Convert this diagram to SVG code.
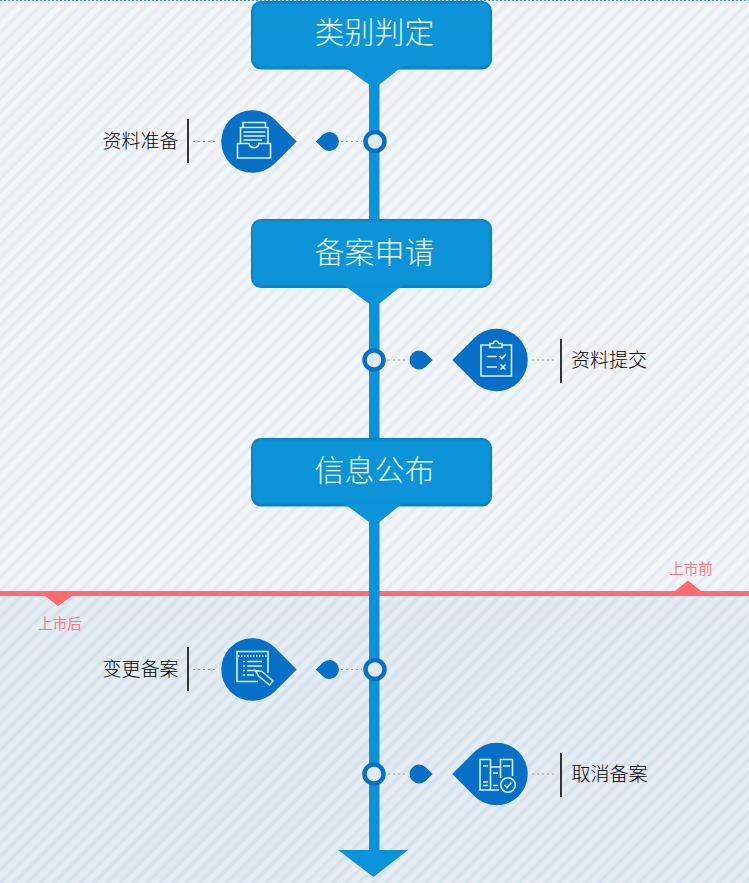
<svg xmlns="http://www.w3.org/2000/svg" width="749" height="883" viewBox="0 0 749 883">
<style>
.h{font-family:"Noto Sans CJK SC","Liberation Sans",sans-serif;font-size:30px;font-weight:300;fill:#e6f6ff;text-anchor:middle}
.l{font-family:"Noto Sans CJK SC","Liberation Sans",sans-serif;font-size:19px;font-weight:300;fill:#000;text-anchor:middle}
.r{font-family:"Noto Sans CJK SC","Liberation Sans",sans-serif;font-size:14.500px;fill:#f47a7d;text-anchor:middle}
.box{fill:#0a93d8}.boxb{fill:#0a80c0}
.drop{fill:#0670c9}
.ring{fill:#e3e9f2;stroke:#0670c9;stroke-width:4.500}
.dot{stroke:#999;stroke-width:1;stroke-dasharray:2 3;fill:none}
.bar{fill:#333}
.ic{fill:none;stroke:#d6f2fd;stroke-width:1.600}
</style>
<defs>
<pattern id="p1" width="9.400" height="9.400" patternUnits="userSpaceOnUse" patternTransform="rotate(-45)"><rect width="9.400" height="9.400" fill="#f3f6f9"/><rect y="2" width="9.400" height="4.400" fill="#edf1f5"/><rect y="3" width="9.400" height="2.400" fill="#e5ebf0"/></pattern>
<pattern id="p2" width="9.400" height="9.400" patternUnits="userSpaceOnUse" patternTransform="rotate(-45)"><rect width="9.400" height="9.400" fill="#e5ecf3"/><rect y="2" width="9.400" height="4.400" fill="#dfe7f0"/><rect y="3" width="9.400" height="2.400" fill="#d8e2ec"/></pattern>
<filter id="soft" x="-5%" y="-10%" width="110%" height="120%"><feGaussianBlur stdDeviation="1.200"/></filter>
</defs>
<rect width="749" height="596" fill="url(#p1)"/>
<rect y="596" width="749" height="287" fill="url(#p2)"/>
<line x1="0" y1="0.500" x2="749" y2="0.500" stroke="#3f9cc0" stroke-width="1" stroke-dasharray="2 2"/>
<g id="divider">
<rect y="591" width="749" height="5" fill="#ff6b6e"/>
<path d="M45 596H72L58 606Z M675 591H701L688 580.500Z" fill="#ff6b6e"/>
<text class="r" x="60" y="629">上市后</text>
<text class="r" x="691" y="574">上市前</text>
</g>
<g id="connectors">
<rect x="369" y="70" width="10.500" height="785" fill="#0a93d8"/>
<path d="M338 850H408L373.500 877Z" fill="#0a93d8"/>
<path class="dot" d="M193 141.500H218M341 141.500H362M388 360H408M532 360H556M193 669.500H218M341 669.500H362M388 774H408M532 774H556"/>
</g>
<g id="n1"><rect class="boxb" x="251" y="1" width="241" height="68.500" rx="10"/><rect class="box" filter="url(#soft)" x="252.500" y="2.500" width="238" height="64.500" rx="9"/><path class="box" d="M342 65H404L379.500 84.500H369Z"/><text class="h" x="374.500" y="43">类别判定</text></g>
<g id="n2"><rect class="boxb" x="251" y="219" width="241" height="69" rx="10"/><rect class="box" filter="url(#soft)" x="252.500" y="220.500" width="238" height="65" rx="9"/><path class="box" d="M342 284H404L379.500 303.500H369Z"/><text class="h" x="374.500" y="263">备案申请</text></g>
<g id="n3"><rect class="boxb" x="251" y="438" width="241" height="68.500" rx="10"/><rect class="box" filter="url(#soft)" x="252.500" y="439.500" width="238" height="64.500" rx="9"/><path class="box" d="M342 502H404L379.500 522H369Z"/><text class="h" x="374.500" y="481">信息公布</text></g>

<g id="s1">
<circle class="ring" cx="375" cy="141.500" r="9.500"/>
<path class="drop" d="M315.700 141.500L323 134.500A9.500 9.500 0 1 1 323 148.500Z"/>
<path class="drop" d="M296.700 141.500L274.800 119.500A31.300 31.300 0 1 0 274.800 163.500Z"/>
<path class="ic" d="M243 127V122.500H265.500V127M240.500 132V127.500H268V143.500M240.500 143.500V132M243.500 132H265.500M243.500 136H265.500M243.500 140H262"/>
<path class="ic" d="M237.500 143.500H249C250 149 258 149 259 143.500H270.500V158H237.500Z"/>
<rect class="bar" x="187" y="119" width="2" height="44"/>
<text class="l" x="140.500" y="148">资料准备</text>
</g>
<g id="s2">
<circle class="ring" cx="374" cy="360" r="9.500"/>
<path class="drop" d="M432.700 360L425.500 353A9.500 9.500 0 1 0 425.500 367Z"/>
<path class="drop" d="M452.300 360L474.200 338A31.300 31.300 0 1 1 474.200 382Z"/>
<path class="ic" d="M490 345H481V376H511.500V345H502M490 347.500H502V343.500H498.500A2.500 2.500 0 0 0 493.500 343.500H490ZM486.500 356.500H497M486.500 367H497M499.500 356L502 358.500L506 354M500.500 364.500L505.500 369.500M505.500 364.500L500.500 369.500"/>
<rect class="bar" x="560" y="339" width="2" height="44"/>
<text class="l" x="609" y="367">资料提交</text>
</g>
<g id="s3">
<circle class="ring" cx="375" cy="669.500" r="9.500"/>
<path class="drop" d="M315.700 669.500L323 662.500A9.500 9.500 0 1 1 323 676.500Z"/>
<path class="drop" d="M296.700 669.500L274.800 647.500A31.300 31.300 0 1 0 274.800 691.500Z"/>
<path class="ic" d="M268 673V651.500H237V681.500H258"/>
<path class="ic" stroke-dasharray="1.500 1.500" d="M238 656H267"/>
<path class="ic" d="M247 661.500H262M247 666H262M247 670.500H256M247 675H254M243 661.500H245M243 666H245M243 670.500H245M243 675H245"/>
<path class="ic" d="M255.500 670.500L262 671.500L273 681L269.500 685L258.500 676Z"/>
<rect class="bar" x="187" y="647" width="2" height="44"/>
<text class="l" x="140.500" y="676">变更备案</text>
</g>
<g id="s4">
<circle class="ring" cx="374" cy="774" r="9.500"/>
<path class="drop" d="M432.700 774L425.500 767A9.500 9.500 0 1 0 425.500 781Z"/>
<path class="drop" d="M452.300 774L474.200 752A31.300 31.300 0 1 1 474.200 796Z"/>
<path class="ic" d="M480 759.500H490.500V790H480ZM490.500 767H500.500V778M500.500 767V759.500H512.500V776M490.500 790H499M483 766H488M493 773H498M503 766H510M483 782H488M483 785.500H488M493 785.500H498"/>
<circle class="ic" cx="508" cy="785" r="7.300"/>
<path class="ic" d="M504.500 785L507 787.500L511.500 782.500"/>
<rect class="bar" x="560" y="753" width="2" height="44"/>
<text class="l" x="609.500" y="781">取消备案</text>
</g>
</svg>
